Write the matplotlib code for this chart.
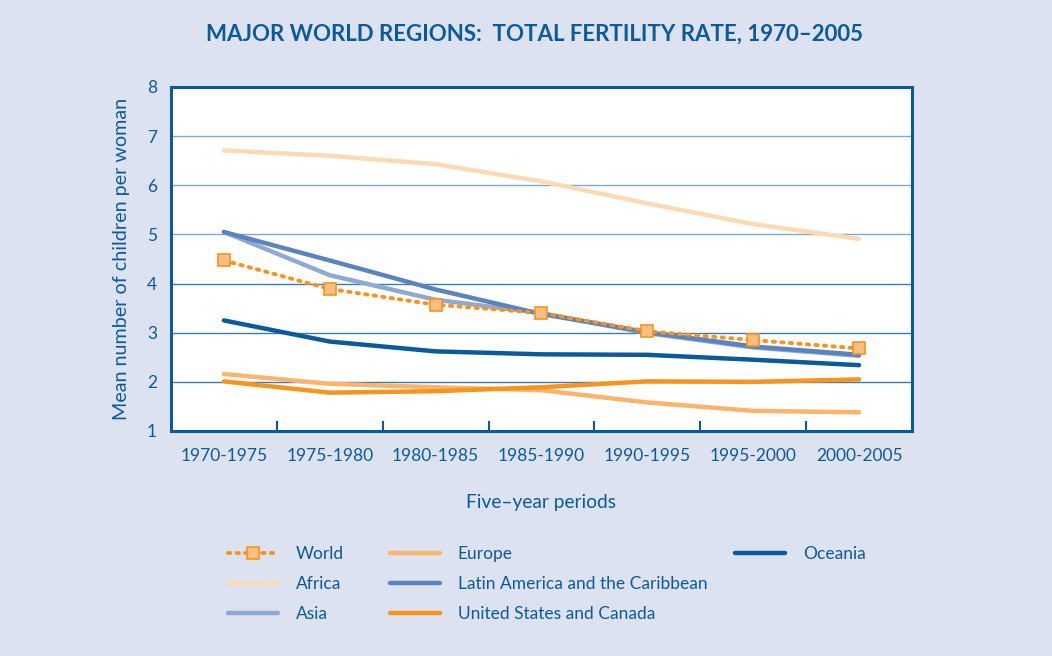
import numpy as np
import matplotlib.pyplot as plt
from matplotlib.ticker import FixedLocator

plt.rcParams['font.family'] = ['Lato', 'DejaVu Sans']

# Data
periods = ['1970-1975', '1975-1980', '1980-1985', '1985-1990',
           '1990-1995', '1995-2000', '2000-2005']
world = [4.47, 3.89, 3.57, 3.40, 3.03, 2.85, 2.68]
africa = [6.71, 6.60, 6.43, 6.08, 5.63, 5.21, 4.91]
asia = [5.05, 4.17, 3.67, 3.40, 2.99, 2.70, 2.53]
europe = [2.16, 1.96, 1.89, 1.83, 1.58, 1.41, 1.38]
latin_america = [5.05, 4.47, 3.88, 3.38, 3.01, 2.72, 2.55]
us_canada = [2.01, 1.78, 1.81, 1.89, 2.01, 2.00, 2.05]
oceania = [3.25, 2.82, 2.62, 2.56, 2.55, 2.45, 2.34]

bg = '#dce2ef'
dark_blue = '#0b5a9e'

fig = plt.figure(figsize=(10.52, 6.56), dpi=100, facecolor=bg)
ax = fig.add_axes([0.1625, 0.343, 0.7044, 0.5244])
ax.set_facecolor('white')

x = np.arange(len(periods))

for yv in range(2, 8):
    ax.axhline(yv, color='#3a7db5' if yv < 5 else '#7eaacb', lw=1.0, zorder=1)

lw = 3.2
ax.plot(x, africa, color='#fdd9b4', lw=lw, label='Africa', zorder=3, solid_capstyle='round')
ax.plot(x, europe, color='#fbb46c', lw=lw, label='Europe', zorder=3, solid_capstyle='round')
ax.plot(x, us_canada, color='#f7941e', lw=lw, label='United States and Canada', zorder=4, solid_capstyle='round')
ax.plot(x, asia, color='#8fa9d2', lw=lw, label='Asia', zorder=3, solid_capstyle='round')
ax.plot(x, latin_america, color='#5a84bf', lw=lw, label='Latin America and the Caribbean', zorder=3, solid_capstyle='round')
ax.plot(x, oceania, color='#0a5a9c', lw=lw, label='Oceania', zorder=4, solid_capstyle='round')
ax.plot(x, world, color='#f7941e', lw=2.8, ls=(0, (0.6, 1.6)), dash_capstyle='round',
        marker='s', markersize=8.5, markerfacecolor='#fbbf81', markeredgecolor='#f7941e',
        markeredgewidth=1.2, label='World', zorder=5)

ax.set_xlim(-0.5, len(periods) - 0.5)
ax.set_ylim(1, 8)
ax.set_xticks(x)
ax.set_xticklabels(periods, fontsize=12.5, color=dark_blue)
ax.xaxis.set_minor_locator(FixedLocator(np.arange(0.5, len(periods) - 0.5, 1)))
ax.tick_params(axis='x', which='major', length=0, pad=12)
ax.tick_params(axis='x', which='minor', direction='in', length=7, width=1.5, color=dark_blue)
ax.set_yticks(range(1, 9))
ax.tick_params(axis='y', length=0, pad=10, labelsize=12.5, labelcolor=dark_blue)

for s in ax.spines.values():
    s.set_color(dark_blue)
    s.set_linewidth(2.2)

ax.set_ylabel('Mean number of children per woman', fontsize=14.2, color=dark_blue, labelpad=12)
ax.set_xlabel('Five\u2013year periods', fontsize=13.8, color=dark_blue, labelpad=22)

fig.text(0.508, 0.948, 'MAJOR WORLD REGIONS:  TOTAL FERTILITY RATE, 1970\u20132005',
         ha='center', va='center', fontsize=16, fontweight='bold', color=dark_blue)

# legend in three separate columns
handles, labels = ax.get_legend_handles_labels()
hmap = dict(zip(labels, handles))
columns = [(0.2167, ['World', 'Africa', 'Asia']),
           (0.3707, ['Europe', 'Latin America and the Caribbean', 'United States and Canada']),
           (0.6987, ['Oceania'])]
for xpos, names in columns:
    leg = fig.legend([hmap[k] for k in names], names, loc='upper left',
                     bbox_to_anchor=(xpos, 0.168), ncol=1, frameon=False,
                     fontsize=12.5, handlelength=2.9, handletextpad=1.0,
                     labelspacing=0.82, borderpad=0, borderaxespad=0)
    for t in leg.get_texts():
        t.set_color(dark_blue)

fig.savefig('out.png', dpi=100, facecolor=bg)
